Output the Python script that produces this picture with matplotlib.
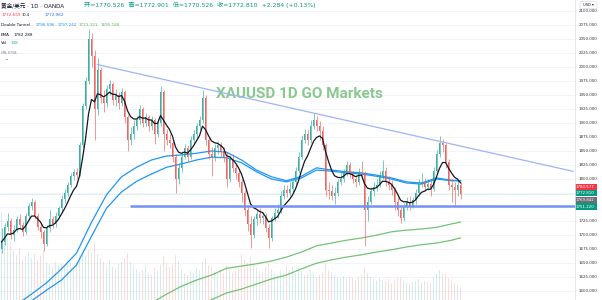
import numpy as np
import pandas as pd
import matplotlib
matplotlib.use("Agg")
import matplotlib.pyplot as plt
from matplotlib.patches import Rectangle, FancyBboxPatch, Ellipse, Circle

plt.rcParams['font.family'] = ['DejaVu Sans', 'Noto Sans CJK SC']

# ---------------- data (3-day candles) ----------------
first_open = 1675
closes = [1688, 1715, 1725, 1700, 1710, 1728, 1718, 1705, 1735, 1752,
          1760, 1735, 1715, 1705, 1685, 1712, 1728, 1720, 1735, 1748,
          1765, 1775, 1790, 1805, 1812, 1808, 1860, 1930, 1975, 2050,
          2020, 1925, 1995, 1945, 1935, 1960, 1970, 1940, 1950, 1935,
          1955, 1910, 1870, 1880, 1895, 1905, 1925, 1900, 1910, 1895,
          1905, 1880, 1900, 1955, 1880, 1870, 1865, 1840, 1800, 1820,
          1840, 1855, 1840, 1870, 1880, 1895, 1905, 1945, 1870, 1845,
          1840, 1855, 1860, 1850, 1840, 1800, 1835, 1820, 1810, 1795,
          1775, 1745, 1720, 1700, 1728, 1738, 1730, 1735, 1712, 1695,
          1730, 1740, 1745, 1770, 1780, 1775, 1782, 1795, 1815, 1840,
          1870, 1880, 1870, 1895, 1905, 1895, 1885, 1860, 1780, 1778,
          1770, 1775, 1795, 1800, 1812, 1825, 1810, 1800, 1795, 1812,
          1810, 1745, 1760, 1778, 1785, 1790, 1805, 1815, 1795, 1790,
          1780, 1760, 1745, 1730, 1750, 1760, 1752, 1762, 1775, 1792,
          1795, 1785, 1792, 1782, 1815, 1845, 1865, 1860, 1830, 1790,
          1785, 1780, 1790, 1773]
highs = [1712, 1722, 1740, 1730, 1718, 1735, 1737, 1724, 1740, 1758,
         1766, 1763, 1740, 1722, 1710, 1718, 1745, 1735, 1742, 1752,
         1772, 1782, 1795, 1810, 1818, 1820, 1866, 1935, 1982, 2068,
         2060, 2030, 2016, 2000, 1958, 1968, 1976, 1973, 1960, 1955,
         1962, 1958, 1915, 1892, 1905, 1912, 1932, 1928, 1918, 1915,
         1912, 1908, 1908, 1965, 1958, 1890, 1880, 1870, 1845, 1828,
         1848, 1862, 1860, 1876, 1888, 1900, 1912, 1959, 1950, 1875,
         1858, 1862, 1868, 1866, 1858, 1848, 1842, 1845, 1828, 1818,
         1800, 1780, 1752, 1735, 1735, 1745, 1748, 1742, 1740, 1720,
         1735, 1748, 1755, 1778, 1790, 1790, 1795, 1800, 1822, 1848,
         1878, 1890, 1888, 1905, 1917, 1912, 1903, 1895, 1865, 1795,
         1790, 1785, 1800, 1812, 1818, 1832, 1830, 1815, 1808, 1820,
         1832, 1815, 1770, 1785, 1795, 1800, 1815, 1834, 1822, 1805,
         1798, 1785, 1768, 1750, 1758, 1768, 1770, 1768, 1782, 1800,
         1810, 1802, 1800, 1798, 1822, 1852, 1877, 1872, 1865, 1835,
         1800, 1795, 1798, 1795]
lows = [1668, 1683, 1708, 1694, 1690, 1705, 1712, 1698, 1702, 1728,
        1745, 1728, 1710, 1695, 1671, 1680, 1705, 1712, 1715, 1728,
        1742, 1758, 1770, 1785, 1798, 1800, 1805, 1855, 1925, 1970,
        2000, 1870, 1915, 1935, 1920, 1928, 1950, 1932, 1930, 1925,
        1930, 1900, 1850, 1860, 1872, 1888, 1898, 1893, 1895, 1885,
        1888, 1862, 1875, 1895, 1850, 1860, 1855, 1830, 1775, 1792,
        1812, 1835, 1832, 1836, 1862, 1872, 1888, 1900, 1860, 1835,
        1805, 1832, 1845, 1840, 1830, 1786, 1795, 1812, 1800, 1785,
        1760, 1735, 1708, 1677, 1695, 1718, 1722, 1720, 1705, 1678,
        1690, 1725, 1730, 1740, 1765, 1768, 1770, 1775, 1790, 1810,
        1835, 1865, 1860, 1865, 1890, 1885, 1870, 1852, 1770, 1765,
        1762, 1755, 1770, 1790, 1795, 1805, 1802, 1793, 1785, 1790,
        1800, 1680, 1725, 1755, 1770, 1778, 1785, 1800, 1788, 1780,
        1772, 1745, 1735, 1721, 1725, 1745, 1745, 1748, 1755, 1770,
        1785, 1778, 1780, 1770, 1778, 1810, 1840, 1848, 1820, 1780,
        1760, 1752, 1770, 1765]
volumes = [88, 75, 62, 58, 50, 45, 52, 40, 44, 48, 42,
           46, 40, 44, 50, 38, 36, 33, 38, 34, 36,
           35, 40, 38, 33, 38, 45, 48, 44, 50, 47,
           58, 46, 42, 38, 34, 40, 33, 31, 36, 38, 42,
           47, 38, 34, 31, 27, 30, 34, 27, 25, 32, 29, 35,
           44, 37, 33, 35, 45, 39, 31, 27, 25, 29, 27, 32, 30,
           38, 42, 35, 33, 29, 27, 31, 27, 35, 30, 27, 29, 32,
           46, 40, 37, 43, 35, 32, 29, 27, 33, 37, 31, 27, 25, 29,
           27, 34, 30, 33, 27, 32, 29, 25, 27, 30, 27, 23, 25, 27,
           37, 30, 27, 25, 23, 22, 24, 21, 23, 22, 20, 23, 25, 33,
           27, 23, 21, 19, 22, 20, 19, 21, 17, 19, 22, 23, 19, 17,
           16, 18, 19, 21, 17, 19, 18, 17, 23, 26, 30, 27, 26, 22, 19, 17, 15, 13]

tunnel_idx = [0, 5, 10, 15, 20, 25, 30, 35, 40, 45, 50, 55, 60, 65, 70, 75,
              80, 85, 90, 95, 100, 105, 110, 115, 120, 125, 130, 135, 140, 145, 150, 153]
tunnel_fast_a = [1556, 1576, 1595, 1615, 1640, 1668, 1723, 1772, 1804, 1821, 1834, 1841,
                 1843, 1846, 1850, 1848, 1834, 1816, 1804, 1797, 1805, 1820, 1816, 1813,
                 1811, 1807, 1802, 1795, 1793, 1802, 1798, 1797.242]
tunnel_fast_b = [1540, 1555, 1583, 1602, 1620, 1647, 1698, 1748, 1777, 1796, 1809, 1821,
                 1827, 1834, 1839, 1838, 1829, 1813, 1800, 1795, 1802, 1816, 1814, 1811,
                 1809, 1805, 1800, 1793, 1791, 1800, 1797, 1796.596]
tunnel_slow_a = [1430, 1442, 1455, 1467, 1480, 1492, 1505, 1520, 1535, 1550, 1579, 1595,
                 1609, 1620, 1629, 1641, 1645, 1649, 1654, 1661, 1670, 1681, 1686, 1691,
                 1695, 1700, 1706, 1709, 1711, 1714, 1720, 1723.321]
tunnel_slow_b = [1380, 1395, 1410, 1425, 1440, 1455, 1470, 1485, 1500, 1515, 1530, 1545,
                 1560, 1572, 1585, 1597, 1604, 1613, 1622, 1629, 1640, 1650, 1656, 1661,
                 1665, 1670, 1674, 1679, 1683, 1686, 1691, 1695.188]

trend_idx = [32, 190.5]
trend_price = [2004, 1813.8]
support_start_idx = 42.8
support_price = 1751.22
last_price = 1772.810

price_ticks = [1600, 1625, 1650, 1675, 1700, 1725, 1800, 1825, 1850, 1875, 1900,
               1925, 1950, 1975, 2000, 2025, 2050, 2075, 2100]
grid_prices = list(range(1600, 2101, 25))
scale_labels = ['1780.577', '1772.810', '1769.842', '1751.220']
scale_values = [1780.577, 1772.810, 1769.842, 1751.220]
scale_colors = ['#f23645', '#089981', '#6a6d78', '#089981']

header_title = '黄金/美元 · 1D · OANDA'
header_ohlc = '开=1770.526  高=1772.901  低=1770.526  收=1772.810  +2.284 (+0.13%)'
bid_label, spread_label, ask_label = '1772.659', '30.4', '1772.962'
tunnel_values = ['1796.596', '1797.242', '1723.321', '1695.188']
ema_value = '1782.288'
vol_value = '108'
watermark = 'XAUUSD 1D GO Markets'

# ---------------- layout ----------------
W, H = 602, 300
PLOT_W = 575
SCALE = 0.5612        # px per USD
Y2100 = 10.7          # px from top where 2100 sits
P_TOP = 2100 + Y2100 / SCALE
P_BOT = 2100 - (H - Y2100) / SCALE
STEP = 3.0            # px per candle

def fx(px):
    return px / W

def fy(py):
    return 1 - py / H

def py_of(p):
    return Y2100 + (2100 - p) * SCALE

UP, DOWN = '#26a69a', '#ef5350'

fig = plt.figure(figsize=(W / 100, H / 100), dpi=100)
fig.patch.set_facecolor('white')
ax_vol = fig.add_axes([0, 0, PLOT_W / W, 1])
ax = fig.add_axes([0, 0, PLOT_W / W, 1], sharex=ax_vol)
ax_vol.set_zorder(1)
ax.set_zorder(2)
ax.patch.set_alpha(0)

N = len(closes)
x = np.arange(N)
c = np.array(closes, float)
o = np.r_[first_open, c[:-1]]
h = np.array(highs, float)
l = np.array(lows, float)
up = c >= o
cols = np.where(up, UP, DOWN)

xmin = -0.5
xmax = xmin + PLOT_W / STEP
ax.set_xlim(xmin, xmax)
ax.set_ylim(P_BOT, P_TOP)
ax_vol.set_ylim(0, H)

# grid
for gp in grid_prices:
    ax_vol.axhline(H - py_of(gp), color='#f0f3fa', lw=0.6, zorder=0)

# volume
ax_vol.bar(x, volumes, width=0.5, color=cols, alpha=0.2, linewidth=0, zorder=1)

# tunnel lines
ax.plot(tunnel_idx, tunnel_fast_a, color='#2196f3', lw=0.9, zorder=3)
ax.plot(tunnel_idx, tunnel_fast_b, color='#2196f3', lw=0.9, zorder=3)
ax.plot(tunnel_idx, tunnel_slow_a, color='#5cb860', lw=0.9, alpha=0.85, zorder=3)
ax.plot(tunnel_idx, tunnel_slow_b, color='#5cb860', lw=0.9, alpha=0.85, zorder=3)

# candles
ax.vlines(x, l, h, colors=cols, lw=0.5, alpha=0.85, zorder=4)
body = np.maximum(np.abs(c - o), 0.8)
ax.bar(x, body, bottom=np.minimum(o, c), width=0.55, color=cols, linewidth=0,
       alpha=0.9, zorder=5)

# EMA
ema = pd.Series(c).ewm(span=7, adjust=False).mean()
ax.plot(x, ema, color='#131722', lw=0.9, zorder=6)

# drawings
ax.axhline(last_price, color=UP, alpha=0.35, lw=0.6, ls=(0, (1, 1)), zorder=2)
ax.plot(trend_idx, trend_price, color='#9fb4f7', lw=0.9, zorder=7)
ax.plot([support_start_idx, xmax], [support_price, support_price], color='#7592f2',
        lw=1.8, zorder=7, solid_capstyle='butt')

for a in (ax, ax_vol):
    a.set_xticks([])
    a.set_yticks([])
    for s in a.spines.values():
        s.set_visible(False)

# watermark
fig.text(fx(299.5), fy(94), watermark, ha='center', va='center', fontsize=11,
         family=['Roboto', 'DejaVu Sans'], fontweight='bold',
         color='#7cc382', alpha=0.9, zorder=1)

# price scale
fig.add_artist(plt.Line2D([fx(PLOT_W), fx(PLOT_W)], [0, 1], color='#e0e3eb', lw=0.6))
for tp in price_ticks:
    fig.text(fx(597), fy(py_of(tp)), f'{tp:.3f}', ha='right', va='center',
             fontsize=2.9, color='#333333')

ys = [py_of(v) for v in scale_values]
mean_y = np.mean(ys)
for k, (lab, col) in enumerate(zip(scale_labels, scale_colors)):
    cy = mean_y + (k - 1.5) * 6.6
    fig.add_artist(Rectangle((fx(573), fy(cy + 3.1)), fx(24), 6.2 / H,
                             transform=fig.transFigure, facecolor=col, edgecolor='none'))
    fig.text(fx(585), fy(cy), lab, ha='center', va='center', fontsize=2.9, color='white')

fig.add_artist(FancyBboxPatch((fx(580), fy(8.5)), fx(17), 7 / H,
                              boxstyle='round,pad=0,rounding_size=0.003',
                              transform=fig.transFigure, facecolor='white',
                              edgecolor='#d1d4dc', lw=0.4))
fig.text(fx(588.5), fy(5), 'USD ▾', ha='center', va='center', fontsize=2.6, color='#131722')

# header
fig.text(fx(1), fy(5), header_title, ha='left', va='center', fontsize=4.1, color='#131722')
fig.add_artist(Rectangle((fx(67.5), fy(7)), fx(3.5), 3.5 / H, transform=fig.transFigure,
                         facecolor='#ff9800', edgecolor='none'))
fig.add_artist(Circle((fx(77), fy(5.2)), 1.6 / W, transform=fig.transFigure,
                      facecolor='#089981', edgecolor='none'))
fig.text(fx(84), fy(5), header_ohlc, ha='left', va='center', fontsize=4.45, color='#089981')

# bid / ask row
fig.add_artist(FancyBboxPatch((fx(1), fy(18.5)), fx(21), 8 / H,
                              boxstyle='round,pad=0,rounding_size=0.004',
                              transform=fig.transFigure, facecolor='white',
                              edgecolor='#f7a9a7', lw=0.5))
fig.text(fx(11.5), fy(14.5), bid_label, ha='center', va='center', fontsize=3.0, color='#f23645')
fig.text(fx(26), fy(14.5), spread_label, ha='center', va='center', fontsize=2.6, color='#131722')
fig.add_artist(FancyBboxPatch((fx(41), fy(18.5)), fx(26), 8 / H,
                              boxstyle='round,pad=0,rounding_size=0.004',
                              transform=fig.transFigure, facecolor='white',
                              edgecolor='#90a4f5', lw=0.5))
fig.text(fx(54), fy(14.5), ask_label, ha='center', va='center', fontsize=3.0, color='#2962ff')

# indicator legend
fig.text(fx(1), fy(25.5), 'Double Tunnel', ha='left', va='center', fontsize=3.0, color='#131722')
tcols = ['#2196f3', '#2196f3', '#5cb860', '#5cb860']
for k, (tv, tc) in enumerate(zip(tunnel_values, tcols)):
    fig.text(fx(36 + 21.5 * k), fy(25.5), tv, ha='left', va='center', fontsize=3.0, color=tc)
fig.text(fx(1), fy(34.5), 'EMA', ha='left', va='center', fontsize=3.0, color='#131722')
fig.text(fx(14), fy(34.5), ema_value, ha='left', va='center', fontsize=3.0, color='#131722')
fig.text(fx(1), fy(43.5), 'Vol', ha='left', va='center', fontsize=3.0, color='#131722')
fig.text(fx(11), fy(43.5), vol_value, ha='left', va='center', fontsize=3.0, color='#26a69a')
fig.text(fx(1), fy(52.5), 'MA-EMA', ha='left', va='center', fontsize=3.0, color='#9598a1')
fig.add_artist(Ellipse((fx(26), fy(52.5)), 5 / W, 3 / H, transform=fig.transFigure,
                       facecolor='none', edgecolor='#6a6d78', lw=0.4))
fig.add_artist(Circle((fx(26), fy(52.5)), 0.8 / W, transform=fig.transFigure,
                      facecolor='#6a6d78', edgecolor='none'))
fig.add_artist(FancyBboxPatch((fx(1), fy(66)), fx(11), 8 / H,
                              boxstyle='round,pad=0,rounding_size=0.004',
                              transform=fig.transFigure, facecolor='white',
                              edgecolor='#e0e3eb', lw=0.5))
fig.text(fx(6.5), fy(61.5), '^', ha='center', va='center', fontsize=3.2, color='#131722')

fig.savefig('out.png', dpi=100)
